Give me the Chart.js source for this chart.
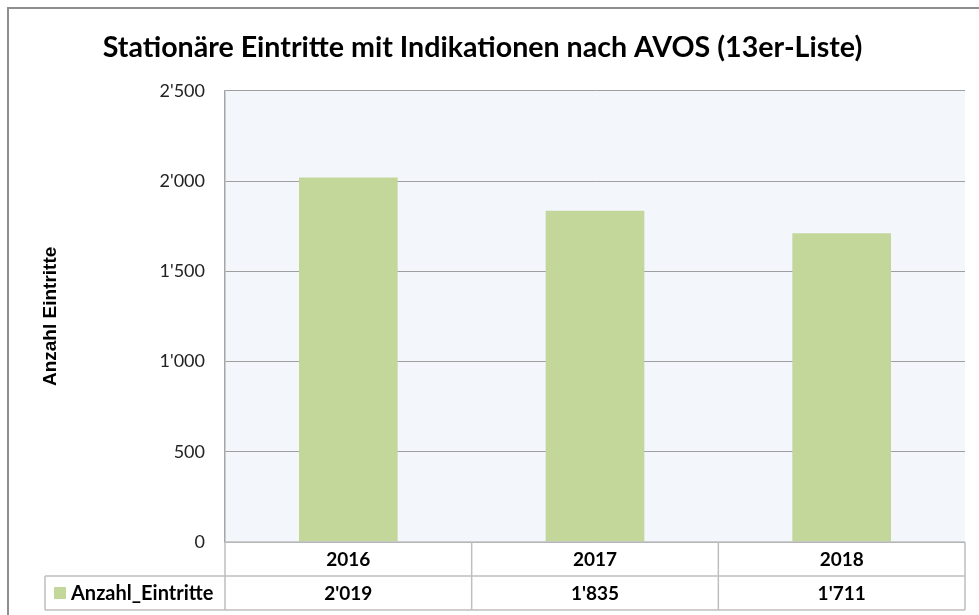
<!DOCTYPE html>
<html>
<head>
<meta charset="utf-8">
<script src="https://cdn.jsdelivr.net/npm/chart.js@4"></script>
<style>
  html, body { margin: 0; padding: 0; background: #fff; }
  #wrap { width: 979px; height: 615px; }
</style>
</head>
<body>
<div id="wrap"><canvas id="myChart" width="979" height="615"></canvas></div>
<script>
// data
let years = ['2016', '2017', '2018'];
let seriesName = 'Anzahl_Eintritte';
let eintritte = [2019, 1835, 1711];
let yMax = 2500;
let yStep = 500;
let chartTitle = 'Stationäre Eintritte mit Indikationen nach AVOS (13er-Liste)';
let yTitle = 'Anzahl Eintritte';

let barColor = '#c4d79b';
let plotBg = '#f3f6fb';
let lineGray = '#bfbfbf';
let fontName = 'Lato, "Open Sans", sans-serif';

function swiss(v){
  let s = String(Math.round(v));
  return s.replace(/\B(?=(\d{3})+(?!\d))/g, "'");
}

// background, frame and the data table under the plot
let tablePlugin = {
  id: 'dataTable',
  beforeDraw(chart){
    let ctx = chart.ctx;
    let a = chart.chartArea;
    ctx.save();
    ctx.fillStyle = '#ffffff';
    ctx.fillRect(0, 0, chart.width, chart.height);
    ctx.fillStyle = plotBg;
    ctx.fillRect(a.left, a.top, a.right - a.left, a.bottom - a.top);
    ctx.strokeStyle = '#8e8e8e';
    ctx.lineWidth = 2;
    ctx.strokeRect(8, 8, chart.width + 20, chart.height + 20);
    ctx.restore();
  },
  afterDraw(chart){
    let ctx = chart.ctx;
    let a = chart.chartArea;
    let xs = chart.scales.x;
    let rowH = 34;
    let colW = (a.right - a.left) / years.length;
    let r1 = a.bottom, r2 = a.bottom + rowH, r3 = a.bottom + 2 * rowH;
    let legLeft = 45;

    ctx.save();
    ctx.strokeStyle = lineGray;
    ctx.lineWidth = 1.5;
    ctx.beginPath();
    // horizontal lines
    ctx.moveTo(a.left, r1); ctx.lineTo(a.right, r1);
    ctx.moveTo(legLeft, r2); ctx.lineTo(a.right, r2);
    ctx.moveTo(legLeft, r3); ctx.lineTo(a.right, r3);
    // verticals
    ctx.moveTo(legLeft, r2); ctx.lineTo(legLeft, r3);
    ctx.moveTo(a.left, r1); ctx.lineTo(a.left, r3);
    for (let i = 0; i < years.length; i++) {
      let edge = xs.getPixelForValue(i) + colW / 2;
      ctx.moveTo(edge, r1); ctx.lineTo(edge, r3);
    }
    ctx.stroke();

    // values row
    ctx.fillStyle = '#000';
    ctx.font = 'bold 19px ' + fontName;
    ctx.textAlign = 'center';
    ctx.textBaseline = 'middle';
    for (let i = 0; i < eintritte.length; i++) {
      ctx.fillText(swiss(eintritte[i]), xs.getPixelForValue(i), (r2 + r3) / 2 + 1);
    }

    // legend key + series name
    ctx.fillStyle = barColor;
    ctx.fillRect(54, (r2 + r3) / 2 - 6, 12, 12);
    ctx.fillStyle = '#000';
    ctx.font = 'bold 20px ' + fontName;
    ctx.textAlign = 'left';
    ctx.fillText(seriesName, 71, (r2 + r3) / 2 + 1);
    ctx.restore();
  }
};

let ctx = document.getElementById('myChart').getContext('2d');
let myChart = new Chart(ctx, {
  type: 'bar',
  data: {
    labels: years,
    datasets: [{
      label: seriesName,
      data: eintritte,
      backgroundColor: barColor,
      borderWidth: 0,
      categoryPercentage: 1,
      barPercentage: 0.4
    }]
  },
  options: {
    responsive: false,
    animation: false,
    layout: { padding: { left: 0, right: 14, top: 0, bottom: 0 } },
    plugins: {
      legend: { display: false },
      tooltip: { enabled: false },
      title: {
        display: true,
        text: chartTitle,
        color: '#000',
        font: { family: fontName, size: 28.6, weight: 'bold', lineHeight: 1.25 },
        padding: { top: 30, bottom: 25 }
      }
    },
    scales: {
      x: {
        grid: { display: false, drawTicks: false },
        border: { display: false },
        ticks: {
          color: '#000',
          padding: 6,
          font: { family: fontName, size: 19, weight: 'bold' }
        },
        afterFit(scale){ scale.height = 73; }
      },
      y: {
        min: 0,
        max: yMax,
        ticks: {
          stepSize: yStep,
          color: '#222',
          padding: 20,
          font: { family: fontName, size: 18 },
          callback: function(v){ return swiss(v); }
        },
        grid: { color: '#9f9f9f', lineWidth: 1, drawTicks: false },
        border: { display: true, color: '#a6a6a6', width: 1.5 },
        title: {
          display: true,
          text: yTitle,
          color: '#000',
          font: { family: '"Liberation Sans", Arial, sans-serif', size: 19, weight: 'bold' },
          padding: { top: 39, bottom: 0 }
        },
        afterFit(scale){ scale.width = 225; }
      }
    }
  },
  plugins: [tablePlugin]
});
</script>
</body>
</html>
